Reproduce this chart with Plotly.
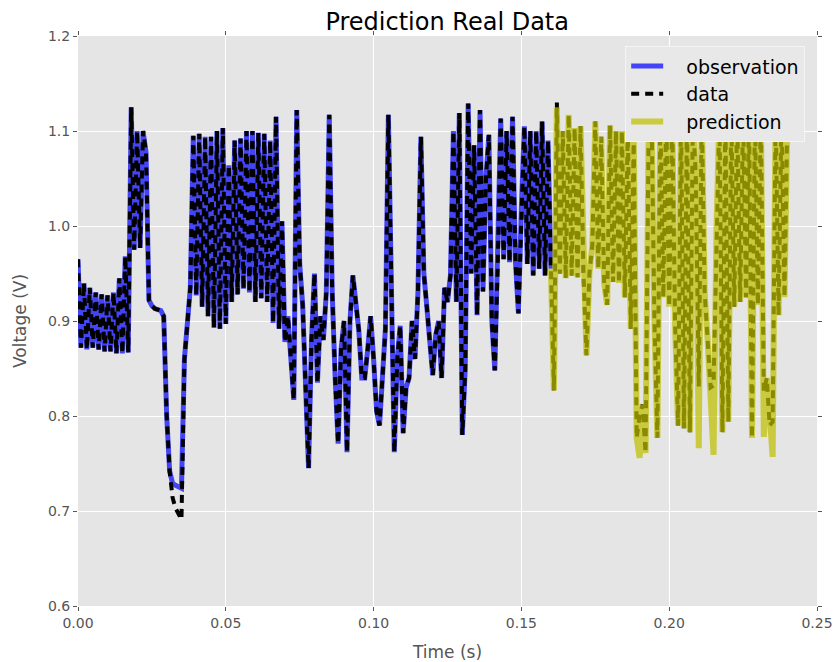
import plotly.graph_objects as go

sample_step = 0.001  # seconds between samples

data_values = [
    0.965, 0.872, 0.940, 0.870, 0.935, 0.872, 0.930, 0.870, 0.928, 0.868,
    0.927, 0.868, 0.930, 0.866, 0.945, 0.866, 0.968, 0.867, 1.125, 0.975,
    1.100, 0.977, 1.100, 1.078, 0.922, 0.916, 0.913, 0.912, 0.911, 0.905,
    0.800, 0.742, 0.714, 0.703, 0.696, 0.691, 0.860, 0.896, 0.935, 1.095,
    0.927, 1.097, 0.915, 1.094, 0.905, 1.094, 0.893, 1.100, 0.892, 1.103,
    0.897, 1.064, 0.920, 1.090, 0.928, 1.092, 0.934, 1.100, 0.930, 1.100,
    0.920, 1.098, 0.924, 1.097, 0.920, 1.090, 0.898, 1.115, 0.892, 1.005,
    0.878, 0.905, 0.860, 0.817, 1.122, 0.960, 0.917, 0.820, 0.745, 0.880,
    0.950, 0.835, 0.905, 0.880, 0.930, 1.117, 0.930, 0.840, 0.771, 0.870,
    0.900, 0.762, 0.900, 0.948, 0.920, 0.890, 0.840, 0.840, 0.870, 0.905,
    0.860, 0.805, 0.790, 0.840, 0.892, 1.117, 0.920, 0.762, 0.860, 0.895,
    0.782, 0.830, 0.840, 0.900, 0.860, 0.930, 1.094, 0.950, 0.915, 0.880,
    0.843, 0.885, 0.900, 0.840, 0.935, 0.920, 0.948, 1.100, 0.920, 1.119,
    0.780, 0.850, 1.129, 0.950, 1.085, 0.906, 1.122, 0.931, 1.050, 1.096,
    0.900, 0.848, 0.960, 1.113, 0.965, 1.100, 0.962, 1.115, 0.962, 0.908,
    1.020, 1.105, 0.960, 1.100, 0.948, 1.100, 0.955, 1.110, 0.948, 1.090,
    0.955, 0.827, 1.130, 0.950, 1.100, 0.945, 1.117, 0.948, 1.103, 0.946,
    1.105, 0.950, 0.864, 0.950, 0.980, 1.110, 0.955, 1.094, 0.940, 0.917,
    1.106, 0.941, 1.100, 0.940, 1.100, 0.925, 1.100, 0.892, 1.095, 0.777,
    0.800, 0.812, 0.761, 1.085, 1.125, 0.900, 0.777, 1.120, 0.925, 1.120,
    0.915, 1.120, 0.896, 0.790, 1.120, 0.787, 1.120, 0.783, 1.120, 1.050,
    0.831, 1.120, 0.930, 0.880, 0.830, 0.832, 0.997, 1.120, 0.783, 1.120,
    0.794, 1.120, 0.915, 1.120, 0.920, 1.120, 0.925, 1.120, 0.777, 1.120,
    0.917, 1.120, 0.826, 0.840, 0.790, 0.794, 1.120, 0.906, 1.120, 0.925,
    1.120,
]

observation_values = [
    0.965, 0.872, 0.940, 0.870, 0.935, 0.872, 0.930, 0.870, 0.928, 0.868,
    0.927, 0.868, 0.930, 0.866, 0.945, 0.866, 0.968, 0.867, 1.125, 0.975,
    1.100, 0.977, 1.100, 1.078, 0.922, 0.916, 0.913, 0.912, 0.911, 0.905,
    0.800, 0.742, 0.729, 0.727, 0.726, 0.724, 0.860, 0.896, 0.935, 1.095,
    0.927, 1.097, 0.915, 1.094, 0.905, 1.094, 0.893, 1.100, 0.892, 1.103,
    0.897, 1.064, 0.920, 1.090, 0.928, 1.092, 0.934, 1.100, 0.930, 1.100,
    0.920, 1.098, 0.924, 1.097, 0.920, 1.090, 0.898, 1.115, 0.892, 1.005,
    0.878, 0.905, 0.860, 0.817, 1.122, 0.960, 0.917, 0.820, 0.745, 0.880,
    0.950, 0.835, 0.905, 0.880, 0.930, 1.117, 0.930, 0.840, 0.771, 0.870,
    0.900, 0.762, 0.900, 0.948, 0.920, 0.890, 0.840, 0.840, 0.870, 0.905,
    0.860, 0.805, 0.790, 0.840, 0.892, 1.117, 0.920, 0.762, 0.860, 0.895,
    0.782, 0.830, 0.840, 0.900, 0.860, 0.930, 1.094, 0.950, 0.915, 0.880,
    0.843, 0.885, 0.900, 0.840, 0.935, 0.920, 0.948, 1.100, 0.920, 1.119,
    0.780, 0.850, 1.129, 0.950, 1.085, 0.906, 1.122, 0.931, 1.050, 1.096,
    0.900, 0.848, 0.960, 1.113, 0.965, 1.100, 0.962, 1.115, 0.962, 0.908,
    1.020, 1.105, 0.960, 1.100, 0.948, 1.100, 0.955, 1.110, 0.948, 1.090,
    0.955,
]

prediction_start_index = 160
prediction_values = [
    0.955, 0.827, 1.125, 0.950, 1.100, 0.945, 1.117, 0.948, 1.103, 0.946,
    1.105, 0.950, 0.864, 0.950, 0.980, 1.110, 0.955, 1.094, 0.940, 0.917,
    1.106, 0.941, 1.100, 0.940, 1.100, 0.925, 1.100, 0.892, 1.095, 0.777,
    0.756, 0.812, 0.761, 1.085, 1.125, 0.900, 0.777, 1.120, 0.925, 1.120,
    0.915, 1.120, 0.896, 0.790, 1.120, 0.787, 1.120, 0.783, 1.120, 1.050,
    0.766, 1.120, 0.930, 0.880, 0.800, 0.759, 0.997, 1.120, 0.783, 1.120,
    0.794, 1.120, 0.915, 1.120, 0.920, 1.120, 0.925, 1.120, 0.777, 1.120,
    0.917, 1.120, 0.778, 0.840, 0.800, 0.757, 1.120, 0.906, 1.120, 0.925,
    1.120,
]

series_names = ["observation", "data", "prediction"]
x_ticks = [0.00, 0.05, 0.10, 0.15, 0.20, 0.25]
y_ticks = [0.6, 0.7, 0.8, 0.9, 1.0, 1.1, 1.2]

t_data = [i * sample_step for i in range(len(data_values))]
t_obs = [i * sample_step for i in range(len(observation_values))]
t_pred = [(prediction_start_index + i) * sample_step for i in range(len(prediction_values))]

FONT = "DejaVu Sans"
GAP = "\u00a0\u00a0\u00a0"  # visual gap between legend sample and label

fig = go.Figure()
fig.add_trace(go.Scatter(
    x=t_obs, y=observation_values, mode="lines", name=GAP + series_names[0],
    line=dict(color="rgba(0,0,255,0.7)", width=5),
))
fig.add_trace(go.Scatter(
    x=t_data, y=data_values, mode="lines", name=GAP + series_names[1],
    line=dict(color="black", width=4, dash="8px,6px"),
))
fig.add_trace(go.Scatter(
    x=t_pred, y=prediction_values, mode="lines", name=GAP + series_names[2],
    line=dict(color="rgba(191,191,0,0.72)", width=6),
))

axis_common = dict(
    showgrid=True, gridcolor="white", gridwidth=1,
    zeroline=False, showline=False, automargin=False,
    ticks="outside", ticklen=4, tickcolor="#555555", tickwidth=1,
    mirror="ticks",
    tickfont=dict(family=FONT, size=14, color="#555555"),
)

fig.update_layout(
    width=835, height=662,
    margin=dict(l=78, r=18, t=36, b=56),
    paper_bgcolor="white",
    plot_bgcolor="#e5e5e5",
    font=dict(family=FONT, color="#555555"),
    title=dict(text="Prediction Real Data", x=0.5356, xanchor="center",
               y=0.968, yanchor="middle",
               font=dict(family=FONT, size=24, color="black")),
    xaxis=dict(range=[0, 0.25], tickvals=x_ticks, tickformat=".2f",
               title=dict(text="Time (s)", font=dict(family=FONT, size=17, color="#555555"), standoff=16),
               **axis_common),
    yaxis=dict(range=[0.6, 1.2], tickvals=y_ticks, tickformat=".1f",
               title=dict(text="Voltage (V)", font=dict(family=FONT, size=17, color="#555555"), standoff=16),
               **axis_common),
    legend=dict(x=0.984, y=0.982, xanchor="right", yanchor="top",
                bgcolor="#e8e8e8", bordercolor="#f4f4f4", borderwidth=1,
                font=dict(family=FONT, size=19, color="black"),
                itemwidth=32),
    showlegend=True,
)

fig.write_html("out.html")
